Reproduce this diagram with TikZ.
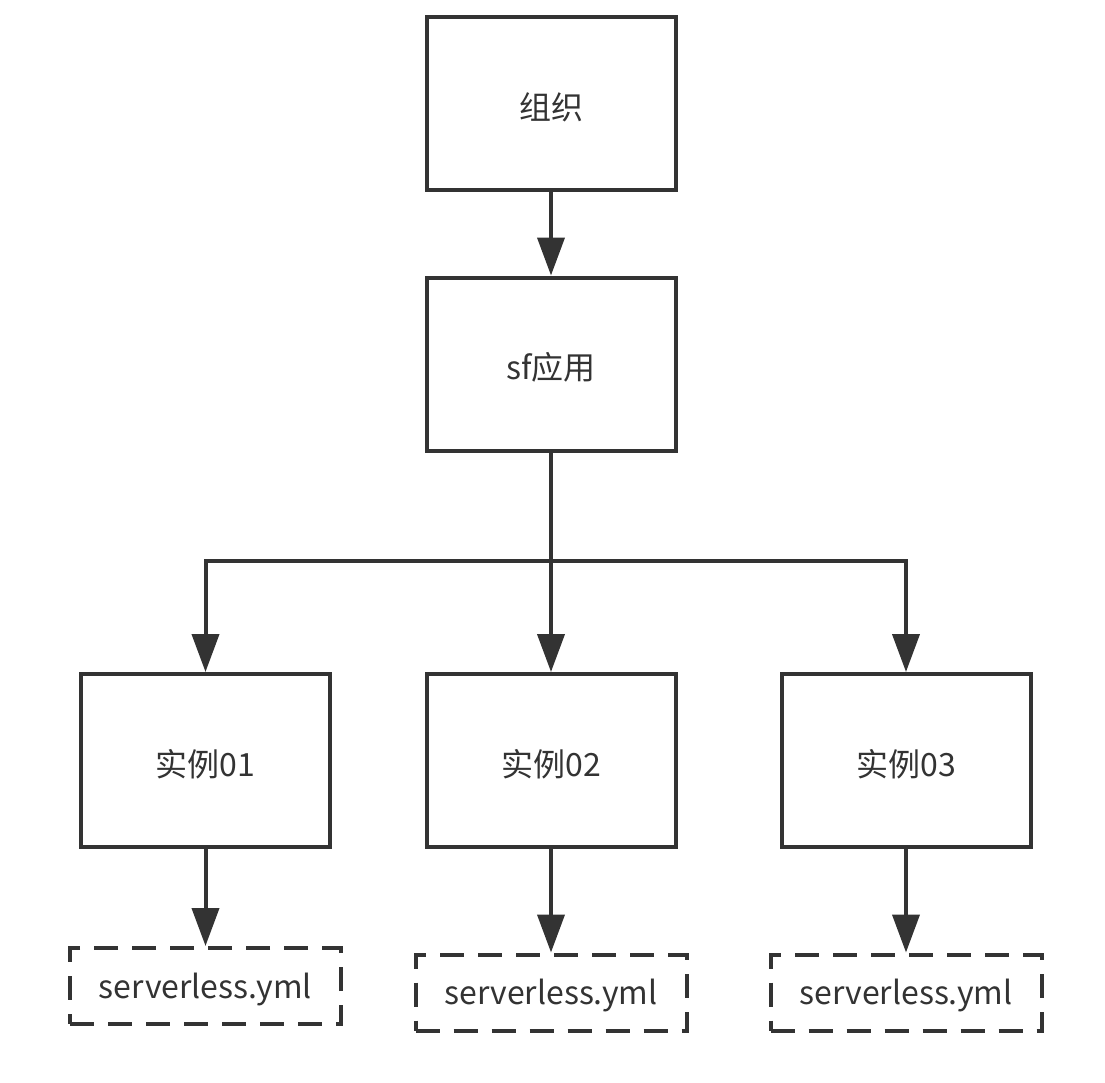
\documentclass[tikz,border=0pt]{standalone}
\usepackage{fontspec}
\setmainfont{Noto Sans CJK SC}
\usetikzlibrary{arrows.meta}
\definecolor{ink}{HTML}{333333}
\tikzset{
  box/.style={draw=ink,line width=2pt,minimum width=124.5pt,minimum height=86.5pt,
    inner sep=0pt,text=ink,font=\fontsize{16}{19}\selectfont,
    text height=15.5pt,text depth=0pt},
  filebox/.style={box,dash pattern=on 12pt off 7pt,minimum width=135.5pt,minimum height=38pt,
    text height=12.4pt},
  arr/.style={draw=ink,line width=2pt,-{Triangle[length=19pt,width=13.5pt]}}
}
\begin{document}
\begin{tikzpicture}[x=0.5pt,y=-0.5pt]
  \useasboundingbox (0,0) rectangle (1105,1083);
  \node[box] (org) at (551,103.5) {组织};
  \node[box] (app) at (551,364) {sf应用};

  \node[box] (inst1) at (205.5,760.5) {实例01};
  \node[box] (inst2) at (551,760.5) {实例02};
  \node[box] (inst3) at (906,760.5) {实例03};

  \node[filebox] (yml1) at (205.5,986) {serverless.yml};
  \node[filebox] (yml2) at (551,992.5) {serverless.yml};
  \node[filebox] (yml3) at (906,992.5) {serverless.yml};

  \coordinate (split) at (551,561);

  \draw[arr] (org) -- (app);
  \draw[arr] (app.south) -- (split) -| (inst1.north);
  \draw[arr] (split) -| (inst3.north);
  \draw[arr] (split) -- (inst2.north);

  \draw[arr] (inst1) -- (yml1);
  \draw[arr] (inst2) -- (yml2);
  \draw[arr] (inst3) -- (yml3);
\end{tikzpicture}
\end{document}
